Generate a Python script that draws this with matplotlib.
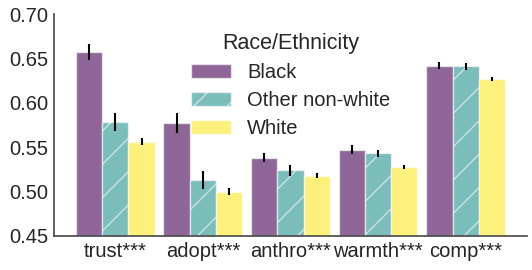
import numpy as np
import matplotlib.pyplot as plt

plt.rcParams['font.family'] = ['Liberation Sans', 'DejaVu Sans']

# 数据
measures = ['trust***', 'adopt***', 'anthro***', 'warmth***', 'comp***']
groups = ['Black', 'Other non-white', 'White']
black = [0.657, 0.577, 0.538, 0.547, 0.642]
other = [0.578, 0.513, 0.524, 0.543, 0.641]
white = [0.556, 0.500, 0.518, 0.528, 0.627]
black_err = [0.009, 0.011, 0.005, 0.005, 0.004]
other_err = [0.010, 0.010, 0.006, 0.004, 0.004]
white_err = [0.004, 0.004, 0.003, 0.002, 0.002]

values = [black, other, white]
errors = [black_err, other_err, white_err]

cmap = plt.get_cmap('viridis')
colors = [cmap(i) for i in np.linspace(0, 1, len(groups))]
hatches = ['', '/', '']

fig = plt.figure(figsize=(5.32, 2.70), dpi=100)
ax = fig.add_axes([0.1015, 0.126, 0.889, 0.822])

x = np.arange(len(measures))
w = 0.3
for j, g in enumerate(groups):
    ax.bar(x + (j - 1) * w, values[j], w, color=colors[j], alpha=0.6,
           edgecolor='white', linewidth=1, hatch=hatches[j], label=g)
    ax.errorbar(x + (j - 1) * w, values[j], yerr=errors[j], fmt='none',
                ecolor='black', elinewidth=1.5, capsize=0)

# 坐标轴
ax.set_ylim(0.45, 0.70)
ax.set_xlim(-0.7, 4.7)
ax.set_yticks([0.45, 0.50, 0.55, 0.60, 0.65, 0.70])
ax.set_yticklabels(['%.2f' % v for v in [0.45, 0.50, 0.55, 0.60, 0.65, 0.70]])
ax.set_xticks(x)
ax.set_xticklabels(measures)
ax.tick_params(length=0, labelsize=14.5, colors='#262626', pad=4)
for s in ['top', 'right']:
    ax.spines[s].set_visible(False)
for s in ['left', 'bottom']:
    ax.spines[s].set_color('#4d4d4d')
    ax.spines[s].set_linewidth(1.25)

# 图例
leg = ax.legend(title='Race/Ethnicity', loc='upper center', frameon=False,
                fontsize=14.5, title_fontsize=15.5, labelspacing=0.45,
                handlelength=2.0, borderaxespad=0.55)
leg.get_title().set_color('#262626')
for t in leg.get_texts():
    t.set_color('#262626')

fig.savefig('out.png', dpi=100)
